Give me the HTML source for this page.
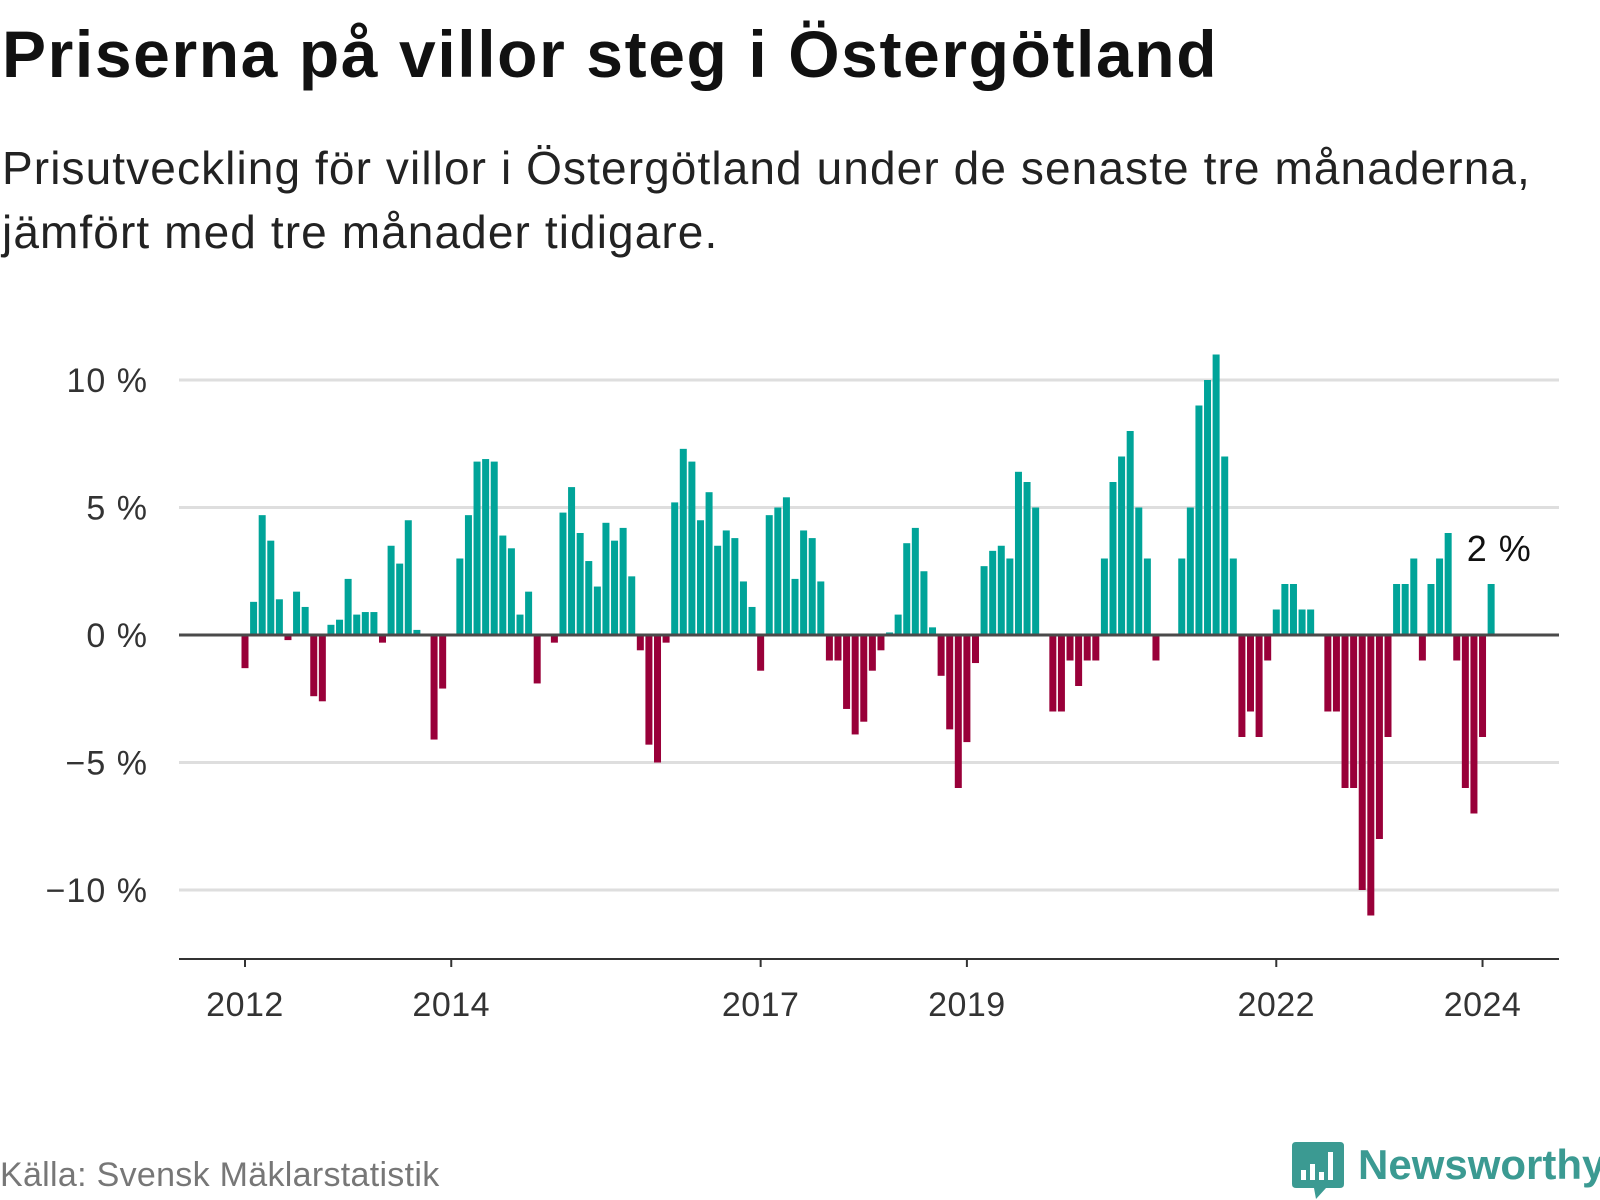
<!DOCTYPE html>
<html><head><meta charset="utf-8"><style>
body{margin:0;width:1600px;height:1200px;background:#fff;font-family:"Liberation Sans",sans-serif;overflow:hidden;position:relative}
#title{position:absolute;left:2px;top:16px;font-size:66px;font-weight:bold;color:#111;white-space:nowrap;letter-spacing:1.6px}
#sub{position:absolute;left:2px;top:136px;font-size:46px;line-height:64px;color:#222;letter-spacing:1.1px;white-space:nowrap}
#src{position:absolute;left:0;top:1156px;font-size:34px;color:#777;letter-spacing:0.3px}
#logo{position:absolute;left:1292px;top:1142px}
#logotext{position:absolute;left:1358px;top:1141px;font-size:42px;font-weight:bold;color:#3b9a92}
svg text{font-family:"Liberation Sans",sans-serif}
</style></head><body>
<div id="title">Priserna på villor steg i Östergötland</div>
<div id="sub">Prisutveckling för villor i Östergötland under de senaste tre månaderna,<br>jämfört med tre månader tidigare.</div>
<svg id="chart" width="1600" height="1200" style="position:absolute;left:0;top:0"></svg>
<div id="src">Källa: Svensk Mäklarstatistik</div>
<svg id="logo" width="52" height="58" viewBox="0 0 52 58">
<path d="M4 0H48Q52 0 52 4V42Q52 46 48 46H34L24 57L22 46H4Q0 46 0 42V4Q0 0 4 0Z" fill="#3b9a92"/>
<rect x="9" y="28" width="5" height="10" fill="#fff"/><rect x="18" y="22" width="5" height="16" fill="#fff"/><rect x="27" y="30" width="5" height="8" fill="#fff"/><rect x="36" y="10" width="5" height="28" fill="#fff"/>
</svg>
<div id="logotext">Newsworthy</div>
<script>
const values=[-1.3,1.3,4.7,3.7,1.4,-0.2,1.7,1.1,-2.4,-2.6,0.4,0.6,
2.2,0.8,0.9,0.9,-0.3,3.5,2.8,4.5,0.2,0,-4.1,-2.1,
0,3.0,4.7,6.8,6.9,6.8,3.9,3.4,0.8,1.7,-1.9,0,
-0.3,4.8,5.8,4.0,2.9,1.9,4.4,3.7,4.2,2.3,-0.6,-4.3,
-5.0,-0.3,5.2,7.3,6.8,4.5,5.6,3.5,4.1,3.8,2.1,1.1,
-1.4,4.7,5.0,5.4,2.2,4.1,3.8,2.1,-1,-1,-2.9,-3.9,
-3.4,-1.4,-0.6,0.1,0.8,3.6,4.2,2.5,0.3,-1.6,-3.7,-6.0,
-4.2,-1.1,2.7,3.3,3.5,3.0,6.4,6.0,5.0,0,-3,-3,
-1,-2,-1,-1,3,6,7,8,5,3,-1,0,
0,3,5,9,10,11,7,3,-4,-3,-4,-1,
1,2,2,1,1,0,-3,-3,-6,-6,-10,-11,
-8,-4,2,2,3,-1,2,3,4,-1,-6,-7,
-4,2];
const yTicks=[10,5,0,-5,-10];
const yTickLabels=["10 %","5 %","0 %","\u22125 %","\u221210 %"];
const xTickYears=[2012,2014,2017,2019,2022,2024];
const startYear=2012;
const lastLabel="2 %";

const svg=document.getElementById('chart');
const NS='http://www.w3.org/2000/svg';
const y0=635, pxPer=25.5, x0=245, step=8.594, bw=7;
const yScale=v=>y0-v*pxPer;
const xScale=i=>x0+i*step;
function mk(tag,attrs){const e=document.createElementNS(NS,tag);for(const k in attrs)e.setAttribute(k,attrs[k]);svg.appendChild(e);return e;}
yTicks.forEach((t,i)=>{
  if(t!==0){const g=mk('line',{x1:179,x2:1559,y1:yScale(t),y2:yScale(t),stroke:'#dedede','stroke-width':3});
  
  }
  const l=mk('text',{x:148,y:yScale(t)+12,'text-anchor':'end','font-size':34,fill:'#333','letter-spacing':1});
  l.textContent=yTickLabels[i];
  
  
});
values.forEach((v,i)=>{
  if(v===0)return;
  const top=v>0?yScale(v):y0, h=Math.abs(v)*pxPer;
  const r=mk('rect',{x:xScale(i)-bw/2,y:top,width:bw,height:h,fill:v>0?'#00a499':'#990039'});
  
  
});
const zl=mk('line',{x1:179,x2:1559,y1:y0,y2:y0,stroke:'#4a4a4a','stroke-width':3});


const ax=mk('line',{x1:179,x2:1559,y1:959,y2:959,stroke:'#333','stroke-width':2});


xTickYears.forEach(yr=>{
  const x=xScale((yr-startYear)*12);
  const tk=mk('line',{x1:x,x2:x,y1:959,y2:967,stroke:'#333','stroke-width':2});
  
  
  const t=mk('text',{x:x,y:1016,'text-anchor':'middle','font-size':34,fill:'#333','letter-spacing':0.5});
  t.textContent=yr;
  
  
});
const li=values.length-1;
const an=mk('text',{x:xScale(li-4)+10,y:yScale(values[li])-23,'font-size':36,fill:'#111','letter-spacing':1});
an.textContent=lastLabel;


</script>
</body></html>
